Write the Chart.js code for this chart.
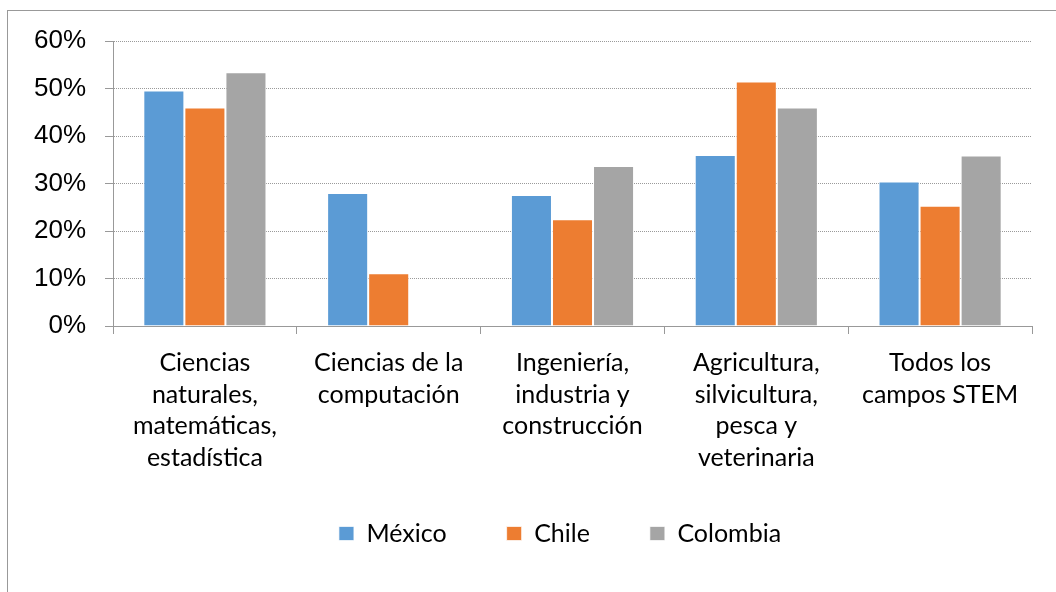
<!DOCTYPE html>
<html>
<head>
<meta charset="utf-8">
<script src="https://cdn.jsdelivr.net/npm/chart.js@4"></script>
<style>
    html, body { margin: 0; padding: 0; background: #fff; overflow: hidden; }
    #wrap { position: relative; width: 1056px; height: 592px; }
    #frame { position: absolute; left: 7px; top: 10px; width: 1100px; height: 700px; border: 1px solid #999; }
    canvas { position: absolute; left: 0; top: 0; }
</style>
</head>
<body>
<div id="wrap">
    <div id="frame"></div>
    <canvas id="chart" width="1056" height="592"></canvas>
</div>
<script>
    // Categories (multi-line labels) and series, in %
    const categories = [
        ['Ciencias', 'naturales,', 'matemáticas,', 'estadística'],
        ['Ciencias de la', 'computación'],
        ['Ingeniería,', 'industria y', 'construcción'],
        ['Agricultura,', 'silvicultura,', 'pesca y', 'veterinaria'],
        ['Todos los', 'campos STEM']
    ];
    const mexico = [49.6, 28.0, 27.6, 36.0, 30.4];
    const chile = [46.0, 11.1, 22.5, 51.5, 25.3];
    const colombia = [53.4, null, 33.7, 46.0, 35.9];
    const yTicks = [0, 10, 20, 30, 40, 50, 60];

    const labelFont = { family: 'Lato', size: 25, lineHeight: 1.27 };

    function series(label, data, color) {
        return {
            label: label,
            data: data,
            backgroundColor: color,
            borderColor: 'rgba(255,255,255,0.7)',
            borderWidth: 1,
            categoryPercentage: 0.67,
            barPercentage: 1
        };
    }

    // legend sits a bit right of the canvas centre and tighter under the labels
    const legendPlacement = {
        id: 'legendPlacement',
        afterLayout(chart) {
            const lg = chart.legend;
            const h = lg.bottom - lg.top;
            lg.left = 88;
            lg.right = chart.chartArea.right;
            lg.top = 461;
            lg.bottom = lg.top + h;
        }
    };

    const ctx = document.getElementById('chart').getContext('2d');
    new Chart(ctx, {
        type: 'bar',
        data: {
            labels: categories,
            datasets: [
                series('México', mexico, '#5B9BD5'),
                series('Chile', chile, '#ED7D31'),
                series('Colombia', colombia, '#A5A5A5')
            ]
        },
        plugins: [legendPlacement],
        options: {
            responsive: false,
            animation: false,
            layout: { padding: { top: 41, left: 0, right: 24, bottom: 21 } },
            plugins: {
                tooltip: { enabled: false },
                legend: {
                    position: 'bottom',
                    labels: {
                        boxWidth: 15,
                        boxHeight: 14,
                        padding: 60,
                        color: '#000',
                        font: { family: 'Lato', size: 25 }
                    }
                }
            },
            scales: {
                x: {
                    afterFit: scale => { scale.height = 150; },
                    grid: {
                        drawOnChartArea: false,
                        drawTicks: true,
                        tickLength: 8,
                        color: '#999'
                    },
                    border: { color: '#999', width: 1 },
                    ticks: {
                        color: '#000',
                        font: labelFont,
                        padding: 13,
                        maxRotation: 0,
                        autoSkip: false
                    }
                },
                y: {
                    min: 0,
                    max: 60,
                    afterFit: scale => { scale.width = 113; },
                    afterBuildTicks: scale => {
                        scale.ticks = yTicks.map(v => ({ value: v }));
                    },
                    grid: {
                        color: '#9a9a9a',
                        tickLength: 8,
                        tickColor: '#999',
                        tickBorderDash: [],
                        lineWidth: 1
                    },
                    border: { color: '#999', width: 1, dash: [1, 1] },
                    ticks: {
                        color: '#000',
                        padding: 19,
                        font: { family: 'Liberation Sans', size: 26 },
                        callback: v => v + '%'
                    }
                }
            }
        }
    });
</script>
</body>
</html>
